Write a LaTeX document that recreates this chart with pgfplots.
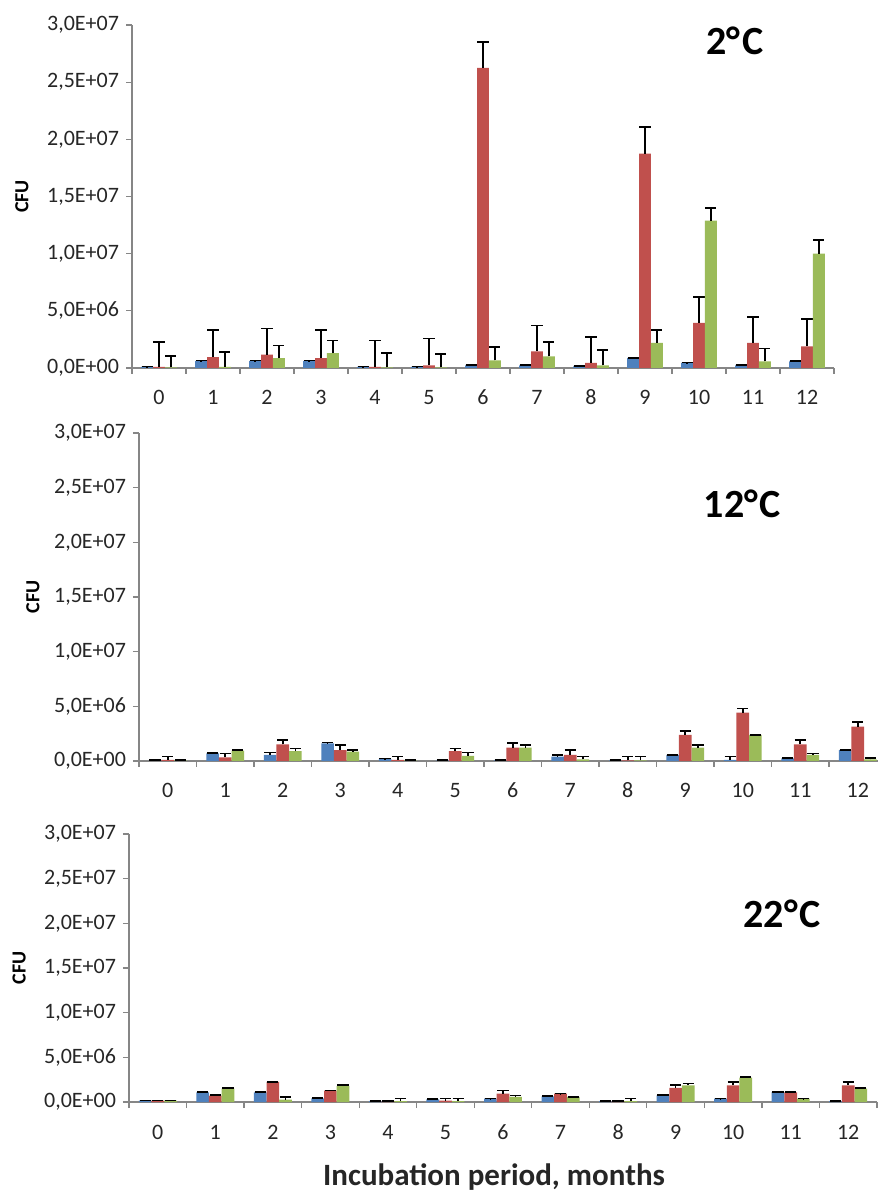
\documentclass[border=0pt]{standalone}
\usepackage{pgfplots}
\pgfplotsset{compat=1.18}
\usepackage{pgfplotstable}
\usepackage{fontspec}
\setmainfont{Carlito}
\definecolor{cblue}{HTML}{4F81BD}
\definecolor{cred}{HTML}{C0504D}
\definecolor{cgreen}{HTML}{9BBB59}
\definecolor{axgray}{HTML}{868686}
\definecolor{txt}{HTML}{262626}

% values in units of 1e6 CFU; errors are the positive error bar lengths
\pgfplotstableread{
x  b     be    r      re    g     ge
0  0.10  0.03  0.10   2.17  0.05  1.00
1  0.61  0.03  0.96   2.34  0.10  1.30
2  0.61  0.03  1.17   2.27  0.87  1.11
3  0.61  0.03  0.87   2.43  1.31  1.11
4  0.10  0.03  0.10   2.32  0.05  1.26
5  0.10  0.03  0.23   2.34  0.05  1.20
6  0.23  0.03  26.25  2.25  0.67  1.17
7  0.23  0.03  1.46   2.27  1.02  1.25
8  0.15  0.03  0.44   2.27  0.23  1.32
9  0.87  0.03  18.75  2.35  2.19  1.11
10 0.44  0.03  3.94   2.26  12.90 1.10
11 0.23  0.03  2.19   2.27  0.58  1.11
12 0.58  0.03  1.90   2.40  10.00 1.17
}\dataA

\pgfplotstableread{
x  b     be    r      re    g     ge
0  0.05  0.02  0.10   0.30  0.05  0.02
1  0.70  0.02  0.33   0.37  0.95  0.05
2  0.55  0.21  1.52   0.40  0.91  0.25
3  1.62  0.06  1.00   0.46  0.85  0.15
4  0.20  0.02  0.10   0.30  0.05  0.02
5  0.05  0.02  0.91   0.25  0.46  0.30
6  0.05  0.02  1.22   0.40  1.22  0.24
7  0.40  0.15  0.55   0.45  0.15  0.25
8  0.05  0.02  0.05   0.35  0.05  0.35
9  0.55  0.02  2.38   0.39  1.22  0.24
10 0.10  0.30  4.42   0.40  2.38  0.02
11 0.25  0.02  1.52   0.40  0.55  0.15
12 1.00  0.02  3.14   0.40  0.15  0.10
}\dataB

\pgfplotstableread{
x  b     be    r      re    g     ge
0  0.15  0.02  0.15   0.02  0.15  0.02
1  1.08  0.02  0.71   0.07  1.49  0.08
2  1.08  0.02  2.24   0.02  0.26  0.30
3  0.41  0.02  1.27   0.02  1.79  0.08
4  0.10  0.02  0.10   0.02  0.10  0.27
5  0.30  0.02  0.15   0.22  0.10  0.27
6  0.37  0.02  0.93   0.37  0.56  0.19
7  0.63  0.02  0.93   0.02  0.56  0.02
8  0.10  0.02  0.10   0.02  0.10  0.27
9  0.75  0.02  1.57   0.30  1.87  0.18
10 0.37  0.02  1.87   0.37  2.72  0.08
11 1.12  0.02  1.08   0.02  0.37  0.02
12 0.10  0.02  1.87   0.37  1.49  0.08
}\dataC

\pgfplotsset{
  panel/.style={
    scale only axis,
    anchor=south west,
    xmin=-0.5, xmax=12.5, ymin=0, ymax=30,
    axis x line*=bottom, axis y line*=left,
    axis line style={axgray, line width=0.6pt, -},
    ybar=0pt, bar width=0.22,
    xtick={-0.5,0.5,...,12.5},
    xticklabels={,,},
    extra x ticks={0,1,2,3,4,5,6,7,8,9,10,11,12},
    extra x tick labels={0,1,2,3,4,5,6,7,8,9,10,11,12},
    extra x tick style={major tick length=0pt,
      xticklabel style={font=\fontsize{11}{13}\selectfont, text=txt, anchor=base, yshift=-18.5pt}},
    ytick={0,5,10,15,20,25,30},
    yticklabels={{0,0E+00},{5,0E+06},{1,0E+07},{1,5E+07},{2,0E+07},{2,5E+07},{3,0E+07}},
    tick align=outside,
    tick style={axgray, line width=0.6pt},
    major tick length=3pt,
    yticklabel style={font=\fontsize{11}{13}\selectfont, text=txt},
    ylabel={CFU},
    ylabel style={font=\fontsize{10}{12}\selectfont\bfseries, anchor=center},
    clip=false,
  },
  errb/.style={
    error bars/.cd, y dir=plus, y explicit,
    error bar style={black, line width=0.8pt},
    error mark=-, error mark options={rotate=90, black, mark size=2.8pt, line width=0.8pt}},
  bluebar/.style={fill=cblue, draw=none, errb},
  redbar/.style={fill=cred, draw=none, errb},
  greenbar/.style={fill=cgreen, draw=none, errb},
}
\tikzset{templabel/.style={font=\fontsize{20}{24}\selectfont\bfseries}}
\newcommand{\degC}[1]{#1°\kern0.04em C}

\begin{document}
\begin{tikzpicture}
\path[use as bounding box] (0,0) rectangle (439pt,595.5pt);
\clip (0,0) rectangle (439pt,595.5pt);

% Panel 1: 2 C
\begin{axis}[panel, at={(66pt,411.5pt)}, width=351pt, height=171.5pt,
  ylabel style={at={(axis description cs:-0.157,0.5)}}]
\addplot[bluebar]  table[x=x, y=b, y error=be] {\dataA};
\addplot[redbar]   table[x=x, y=r, y error=re] {\dataA};
\addplot[greenbar] table[x=x, y=g, y error=ge] {\dataA};
\node[templabel] at (axis description cs:0.859,0.953) {\degC{2}};
\end{axis}

% Panel 2: 12 C
\begin{axis}[panel, at={(69.5pt,215pt)}, width=373.75pt, height=164pt,
  ylabel style={at={(axis description cs:-0.142,0.5)}}]
\addplot[bluebar]  table[x=x, y=b, y error=be] {\dataB};
\addplot[redbar]   table[x=x, y=r, y error=re] {\dataB};
\addplot[greenbar] table[x=x, y=g, y error=ge] {\dataB};
\node[templabel] at (axis description cs:0.807,0.784) {\degC{12}};
\end{axis}

% Panel 3: 22 C
\begin{axis}[panel, at={(64.5pt,44.5pt)}, width=374pt, height=134pt,
  ylabel style={at={(axis description cs:-0.147,0.5)}},
  xlabel={Incubation period, months},
  xlabel style={font=\fontsize{15.5}{18}\selectfont\bfseries, text=txt, anchor=base, at={(axis description cs:0.488,-0.31)}}]
\addplot[bluebar]  table[x=x, y=b, y error=be] {\dataC};
\addplot[redbar]   table[x=x, y=r, y error=re] {\dataC};
\addplot[greenbar] table[x=x, y=g, y error=ge] {\dataC};
\node[templabel] at (axis description cs:0.873,0.701) {\degC{22}};
\end{axis}
\end{tikzpicture}
\end{document}
